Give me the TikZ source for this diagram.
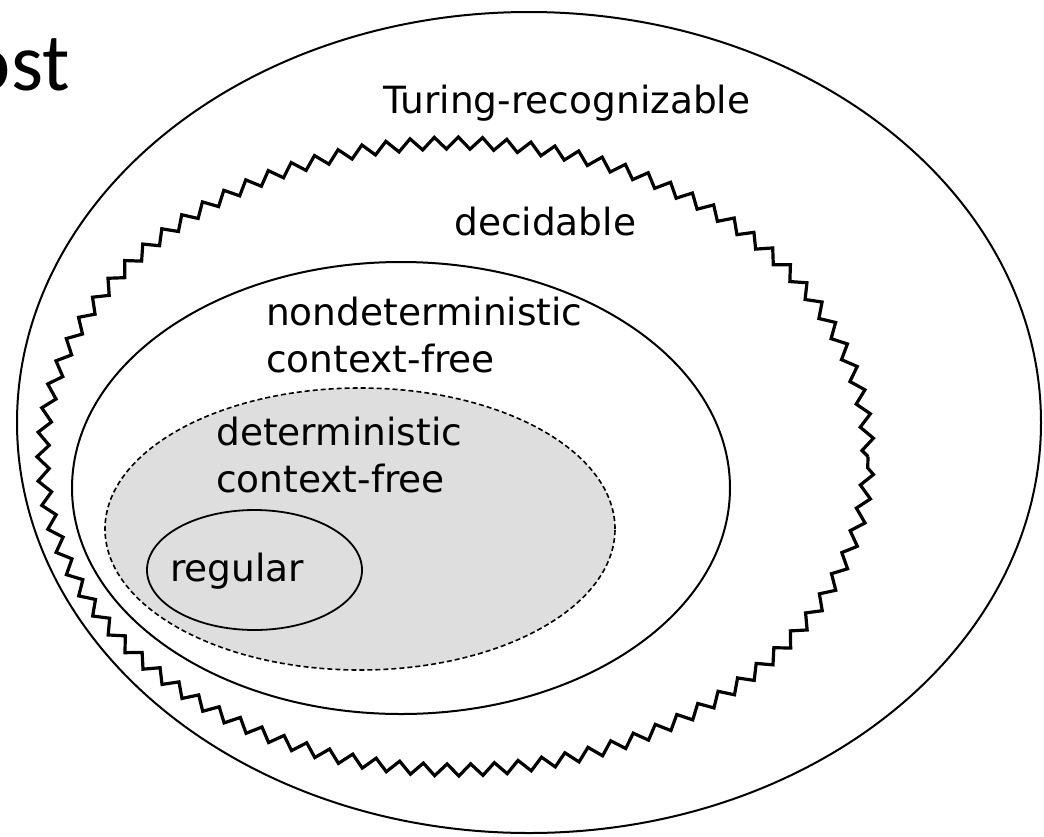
\documentclass[tikz,border=0pt]{standalone}
\usepackage{fontspec}
\usetikzlibrary{decorations.pathmorphing}
\newfontfamily\dvfont{DejaVu Sans}
\newfontfamily\calfont{Carlito}
\definecolor{setgray}{HTML}{DEDEDE}
\tikzset{
  setline/.style={line width=2pt, black},
  zigline/.style={line width=3.2pt, black, line join=miter,
    decorate, decoration={zigzag, segment length=24pt, amplitude=6pt}},
  dashline/.style={line width=1.6pt, black, dash pattern=on 5pt off 3pt, fill=setgray},
  lbl/.style={inner sep=0pt, anchor=base west, font=\dvfont\fontsize{37.5}{45}\selectfont},
}
\begin{document}
\begin{tikzpicture}[x=1pt,y=-1pt]
\useasboundingbox (0,0) rectangle (1044,836);
\fill[white] (0,0) rectangle (1044,836);
% outer: Turing-recognizable
\draw[setline] (529,422.5) ellipse [x radius=512pt, y radius=410.5pt];
% decidable (zigzag)
\draw[zigline] (455.5,456.5) ellipse [x radius=412.5pt, y radius=313.5pt];
% nondeterministic context-free
\draw[setline] (401,488) ellipse [x radius=329pt, y radius=226pt];
% deterministic context-free
\draw[dashline] (360,529) ellipse [x radius=255pt, y radius=141pt];
% regular
\draw[setline, line width=1.8pt] (254.5,570) ellipse [x radius=107.5pt, y radius=60pt];
% labels
\node[lbl] (tr) at (383,113) {Turing-recognizable};
\node[lbl] (dec) at (454,235) {decidable};
\node[lbl] (nd1) at (266,325) {nondeterministic};
\node[lbl] (nd2) at (266,372) {context-free};
\node[lbl] (d1) at (216,445) {deterministic};
\node[lbl] (d2) at (216,492) {context-free};
\node[lbl] (reg) at (170,581) {regular};
\node[inner sep=0pt, anchor=base east, font=\calfont\fontsize{82}{90}\selectfont] (title) at (70,90) {ost};
\end{tikzpicture}
\end{document}
